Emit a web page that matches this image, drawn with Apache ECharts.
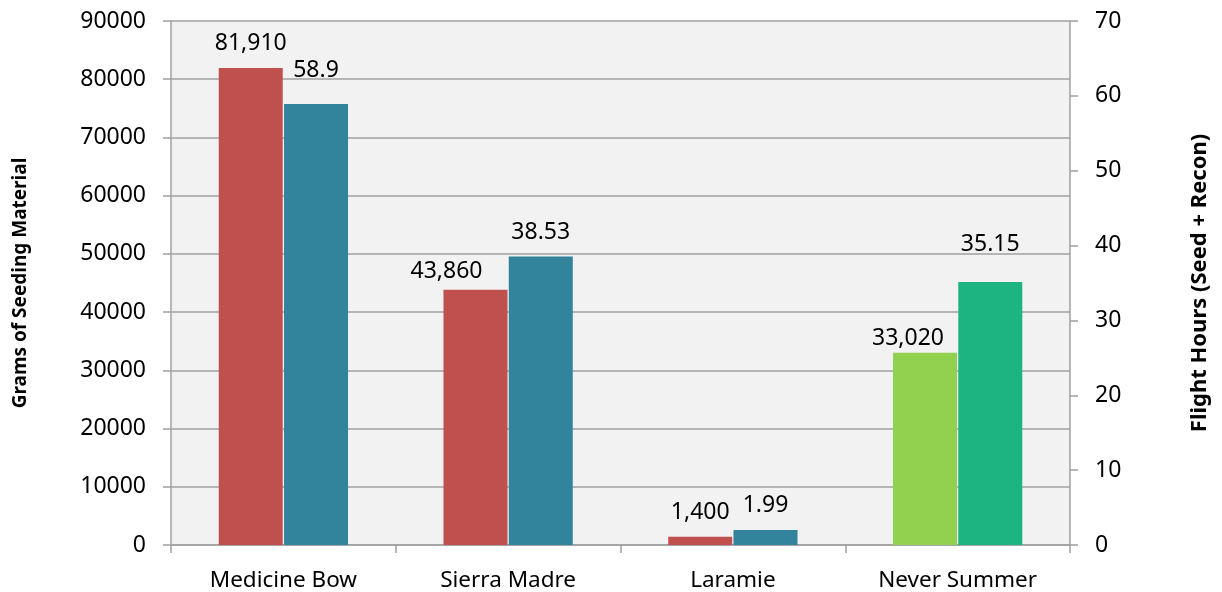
<!DOCTYPE html>
<html><head><meta charset="utf-8">
<script src="https://cdn.jsdelivr.net/npm/echarts@6/dist/echarts.min.js"></script>
<style>html,body{margin:0;padding:0;background:#fff}#c{width:1222px;height:592px}</style>
</head><body><div id="c"></div>
<script>
const categories = ['Medicine Bow', 'Sierra Madre', 'Laramie', 'Never Summer'];
const gramsValues = [81910, 43860, 1400, 33020];
const hoursValues = [58.9, 38.53, 1.99, 35.15];
const gramsTicks = { min: 0, max: 90000, interval: 10000 };
const hoursTicks = { min: 0, max: 70, interval: 10 };

const gramsColors = ['#c0504d', '#c0504d', '#c0504d', '#92d050'];
const hoursColors = ['#31849b', '#31849b', '#31849b', '#1eb482'];
const gramsLabelOffsets = [[0, 0], [-29, 6], [0, 0], [-17, 10]];
const hoursLabelOffsets = [[0, -9], [0, 0], [0, 0], [0, -13]];

const FONT = 'Noto Sans';
const chart = echarts.init(document.getElementById('c'));
chart.setOption({
  animation: false,
  textStyle: { fontFamily: FONT },
  grid: { left: 171, right: 152, top: 21, bottom: 47, show: true, backgroundColor: '#f2f2f2', borderWidth: 0 },
  xAxis: {
    type: 'category', data: categories,
    axisLine: { lineStyle: { color: '#a0a0a0', width: 1.5 } },
    axisTick: { show: true, length: 8, lineStyle: { color: '#a0a0a0', width: 1.5 } },
    axisLabel: { color: '#000', fontSize: 22.5, margin: 24, fontFamily: FONT }
  },
  yAxis: [
    {
      type: 'value', min: gramsTicks.min, max: gramsTicks.max, interval: gramsTicks.interval,
      name: 'Grams of Seeding Material', nameLocation: 'middle', nameGap: 141,
      nameTextStyle: { fontWeight: 'bold', fontSize: 19, color: '#000', fontFamily: FONT },
      axisLine: { show: true, lineStyle: { color: '#a0a0a0', width: 1.5 } },
      axisTick: { show: true, length: 8, lineStyle: { color: '#a0a0a0', width: 1.5 } },
      axisLabel: { color: '#000', fontSize: 23, margin: 25, fontFamily: FONT, formatter: v => String(v) },
      splitLine: { show: true, lineStyle: { color: '#a0a0a0', width: 1.5 } }
    },
    {
      type: 'value', min: hoursTicks.min, max: hoursTicks.max, interval: hoursTicks.interval,
      name: 'Flight Hours (Seed + Recon)', nameLocation: 'middle', nameGap: 119, nameRotate: 90,
      nameTextStyle: { fontWeight: 'bold', fontSize: 22, color: '#000', fontFamily: FONT },
      axisLine: { show: true, lineStyle: { color: '#a0a0a0', width: 1.5 } },
      axisTick: { show: true, length: 8, lineStyle: { color: '#a0a0a0', width: 1.5 } },
      axisLabel: { color: '#000', fontSize: 23, margin: 25, fontFamily: FONT },
      splitLine: { show: false }
    }
  ],
  series: [
    {
      type: 'bar', yAxisIndex: 0, barWidth: 64, barGap: '2%',
      data: gramsValues.map((v, i) => ({
        value: v, itemStyle: { color: gramsColors[i] },
        label: { offset: gramsLabelOffsets[i] }
      })),
      label: { show: true, position: 'top', distance: 13, color: '#000', fontSize: 23, fontFamily: FONT,
        formatter: p => p.value.toLocaleString('en-US') }
    },
    {
      type: 'bar', yAxisIndex: 1, barWidth: 64,
      data: hoursValues.map((v, i) => ({
        value: v, itemStyle: { color: hoursColors[i] },
        label: { offset: hoursLabelOffsets[i] }
      })),
      label: { show: true, position: 'top', distance: 13, color: '#000', fontSize: 23, fontFamily: FONT,
        formatter: p => String(p.value) }
    }
  ]
});
</script></body></html>
